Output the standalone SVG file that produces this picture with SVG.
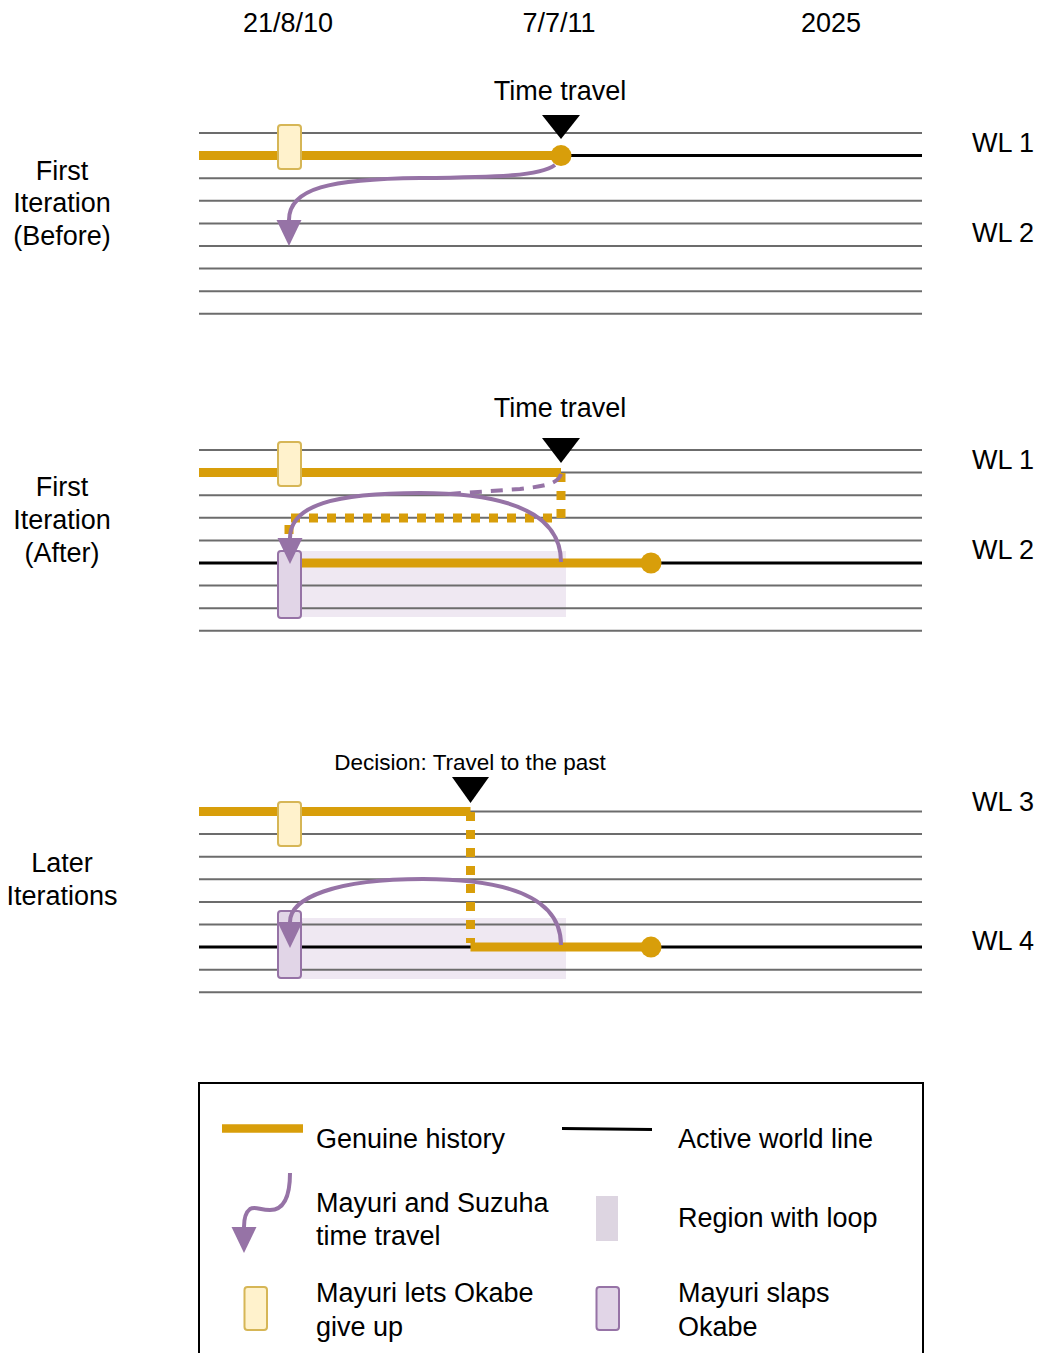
<svg xmlns="http://www.w3.org/2000/svg" width="1040" height="1353" viewBox="0 0 1040 1353">
<defs>
<style>
text{font-family:"Liberation Sans",Arial,Helvetica,sans-serif;fill:#000;}
.t27{font-size:27px;}
.t22{font-size:22.5px;}
.mid{text-anchor:middle;}
.grid line{stroke:#6c6c6c;stroke-width:2;}
.gold{stroke:#d89e0a;stroke-width:9;fill:none;}
.dot{stroke:#d89e0a;stroke-width:9;fill:none;stroke-dasharray:9 9;}
.blk{stroke:#000;stroke-width:3;fill:none;}
.pur{stroke:#9673a6;stroke-width:4;fill:none;}
.gbox{fill:#fff2cc;stroke:#d6b656;stroke-width:2;}
.pbox{fill:#e1d5e7;stroke:#9673a6;stroke-width:2;}
.region{fill:#e1d5e7;fill-opacity:0.55;}
.dotc{fill:#d89e0a;}
.tri{fill:#000;}
</style>
<marker id="ah" markerUnits="userSpaceOnUse" markerWidth="26" markerHeight="26" viewBox="0 0 25 24" refX="0" refY="12" orient="auto">
<path d="M0,0 L25,12 L0,24 Z" fill="#9673a6"/>
</marker>
</defs>
<rect width="1040" height="1353" fill="#fff"/>

<g id="headers">
<text class="t27 mid" x="288" y="32">21/8/10</text>
<text class="t27 mid" x="559" y="32">7/7/11</text>
<text class="t27 mid" x="831" y="32">2025</text>
</g>

<!-- Section 1 -->
<g id="sec1-grid" class="grid">
<line x1="199" y1="133" x2="922" y2="133"/>
<line x1="199" y1="155.6" x2="922" y2="155.6"/>
<line x1="199" y1="178.2" x2="922" y2="178.2"/>
<line x1="199" y1="200.8" x2="922" y2="200.8"/>
<line x1="199" y1="223.4" x2="922" y2="223.4"/>
<line x1="199" y1="246" x2="922" y2="246"/>
<line x1="199" y1="268.6" x2="922" y2="268.6"/>
<line x1="199" y1="291.2" x2="922" y2="291.2"/>
<line x1="199" y1="313.8" x2="922" y2="313.8"/>
</g>
<g id="sec1-labels">
<text class="t27 mid" x="62" y="179.5">First</text>
<text class="t27 mid" x="62" y="212">Iteration</text>
<text class="t27 mid" x="62" y="245">(Before)</text>
<text class="t27" x="972" y="152">WL 1</text>
<text class="t27" x="972" y="242">WL 2</text>
<text class="t27 mid" x="560" y="100">Time travel</text>
</g>
<g id="sec1-worldlines">
<line class="blk" x1="561" y1="155.6" x2="922" y2="155.6"/>
<line class="gold" x1="199" y1="155.6" x2="561" y2="155.6"/>
</g>
<g id="sec1-giveup"><rect class="gbox" x="278" y="125" width="23" height="44" rx="3"/></g>
<g id="sec1-event"><circle class="dotc" cx="561" cy="155.6" r="10.5"/></g>
<g id="sec1-marker"><polygon class="tri" points="542,115 580,115 561,139"/></g>
<g id="sec1-connectors">
<path class="pur" marker-end="url(#ah)" d="M 555 165 C 540 176, 500 177, 420 178 C 330 179, 289 188, 289 220"/>
</g>

<!-- Section 2 -->
<g id="sec2-region"><rect class="region" x="290" y="551" width="276" height="66"/></g>
<g id="sec2-grid" class="grid">
<line x1="199" y1="450" x2="922" y2="450"/>
<line x1="199" y1="472.6" x2="922" y2="472.6"/>
<line x1="199" y1="495.2" x2="922" y2="495.2"/>
<line x1="199" y1="517.8" x2="922" y2="517.8"/>
<line x1="199" y1="540.4" x2="922" y2="540.4"/>
<line x1="199" y1="563" x2="922" y2="563"/>
<line x1="199" y1="585.6" x2="922" y2="585.6"/>
<line x1="199" y1="608.2" x2="922" y2="608.2"/>
<line x1="199" y1="630.8" x2="922" y2="630.8"/>
</g>
<g id="sec2-labels">
<text class="t27 mid" x="62" y="495.5">First</text>
<text class="t27 mid" x="62" y="528.5">Iteration</text>
<text class="t27 mid" x="62" y="561.5">(After)</text>
<text class="t27" x="972" y="468.5">WL 1</text>
<text class="t27" x="972" y="559">WL 2</text>
<text class="t27 mid" x="560" y="417">Time travel</text>
</g>
<g id="sec2-worldlines">
<line class="blk" x1="199" y1="563" x2="922" y2="563"/>
<line class="gold" x1="199" y1="472.6" x2="561" y2="472.6"/>
<line class="gold" x1="301" y1="563" x2="651" y2="563"/>
</g>
<g id="sec2-giveup"><rect class="gbox" x="278" y="442" width="23" height="44" rx="3"/></g>
<g id="sec2-slap"><rect class="pbox" x="278" y="551" width="23" height="67" rx="3"/></g>
<g id="sec2-event"><circle class="dotc" cx="651" cy="563" r="10.5"/></g>
<g id="sec2-marker"><polygon class="tri" points="542,438 580,438 561,463"/></g>
<g id="sec2-connectors">
<path class="dot" d="M 561 473 L 561 518 L 289 518 L 289 540"/>
<path class="pur" stroke-dasharray="12 9" d="M 561 474 C 558 484, 545 486, 520 489 L 448 494"/>
<path class="pur" marker-end="url(#ah)" d="M 561 562 C 561 505, 490 493, 420 493 C 335 493, 290 505, 290 538"/>
</g>

<!-- Section 3 -->
<g id="sec3-region"><rect class="region" x="290" y="918" width="276" height="61"/></g>
<g id="sec3-grid" class="grid">
<line x1="199" y1="811.6" x2="922" y2="811.6"/>
<line x1="199" y1="834.1" x2="922" y2="834.1"/>
<line x1="199" y1="856.7" x2="922" y2="856.7"/>
<line x1="199" y1="879.3" x2="922" y2="879.3"/>
<line x1="199" y1="901.9" x2="922" y2="901.9"/>
<line x1="199" y1="924.5" x2="922" y2="924.5"/>
<line x1="199" y1="947.1" x2="922" y2="947.1"/>
<line x1="199" y1="969.7" x2="922" y2="969.7"/>
<line x1="199" y1="992.3" x2="922" y2="992.3"/>
</g>
<g id="sec3-labels">
<text class="t27 mid" x="62" y="872">Later</text>
<text class="t27 mid" x="62" y="905">Iterations</text>
<text class="t27" x="972" y="811">WL 3</text>
<text class="t27" x="972" y="950">WL 4</text>
<text class="t22 mid" x="470" y="770">Decision: Travel to the past</text>
</g>
<g id="sec3-worldlines">
<line class="blk" x1="199" y1="947.1" x2="922" y2="947.1"/>
<line class="gold" x1="199" y1="811.6" x2="470.5" y2="811.6"/>
<line class="gold" x1="470.5" y1="947.1" x2="651" y2="947.1"/>
</g>
<g id="sec3-giveup"><rect class="gbox" x="278" y="802" width="23" height="44" rx="3"/></g>
<g id="sec3-slap"><rect class="pbox" x="278" y="911" width="23" height="67" rx="3"/></g>
<g id="sec3-event"><circle class="dotc" cx="651" cy="947.1" r="10.5"/></g>
<g id="sec3-marker"><polygon class="tri" points="452,777 489,777 470.5,803"/></g>
<g id="sec3-connectors">
<path class="dot" d="M 470.5 812 L 470.5 943"/>
<path class="pur" marker-end="url(#ah)" d="M 561 945 C 561 895, 500 879, 423 879 C 335 879, 290 898, 290 922"/>
</g>

<!-- Legend -->
<g id="legend">
<rect x="199" y="1083" width="724" height="300" fill="#fff" stroke="#000" stroke-width="2"/>
<line x1="222" y1="1128.5" x2="303" y2="1128.5" stroke="#d89e0a" stroke-width="8.5"/>
<text class="t27" x="316" y="1147.5">Genuine history</text>
<line x1="562" y1="1128.5" x2="652" y2="1129.5" stroke="#000" stroke-width="3"/>
<text class="t27" x="678" y="1147.5">Active world line</text>
<path class="pur" marker-end="url(#ah)" d="M 290 1173 C 290 1200, 282 1210, 270 1210 C 260 1210, 255 1206, 250 1209 C 246 1212, 244 1218, 244 1227"/>
<text class="t27" x="316" y="1211.5">Mayuri and Suzuha</text>
<text class="t27" x="316" y="1245">time travel</text>
<rect x="596" y="1196" width="22" height="45" fill="#ddd5e1"/>
<text class="t27" x="678" y="1227">Region with loop</text>
<rect class="gbox" x="244.5" y="1287" width="22.5" height="43" rx="3"/>
<text class="t27" x="316" y="1302">Mayuri lets Okabe</text>
<text class="t27" x="316" y="1336">give up</text>
<rect class="pbox" x="596.5" y="1287" width="22.5" height="43" rx="3"/>
<text class="t27" x="678" y="1302">Mayuri slaps</text>
<text class="t27" x="678" y="1336">Okabe</text>
</g>
</svg>
